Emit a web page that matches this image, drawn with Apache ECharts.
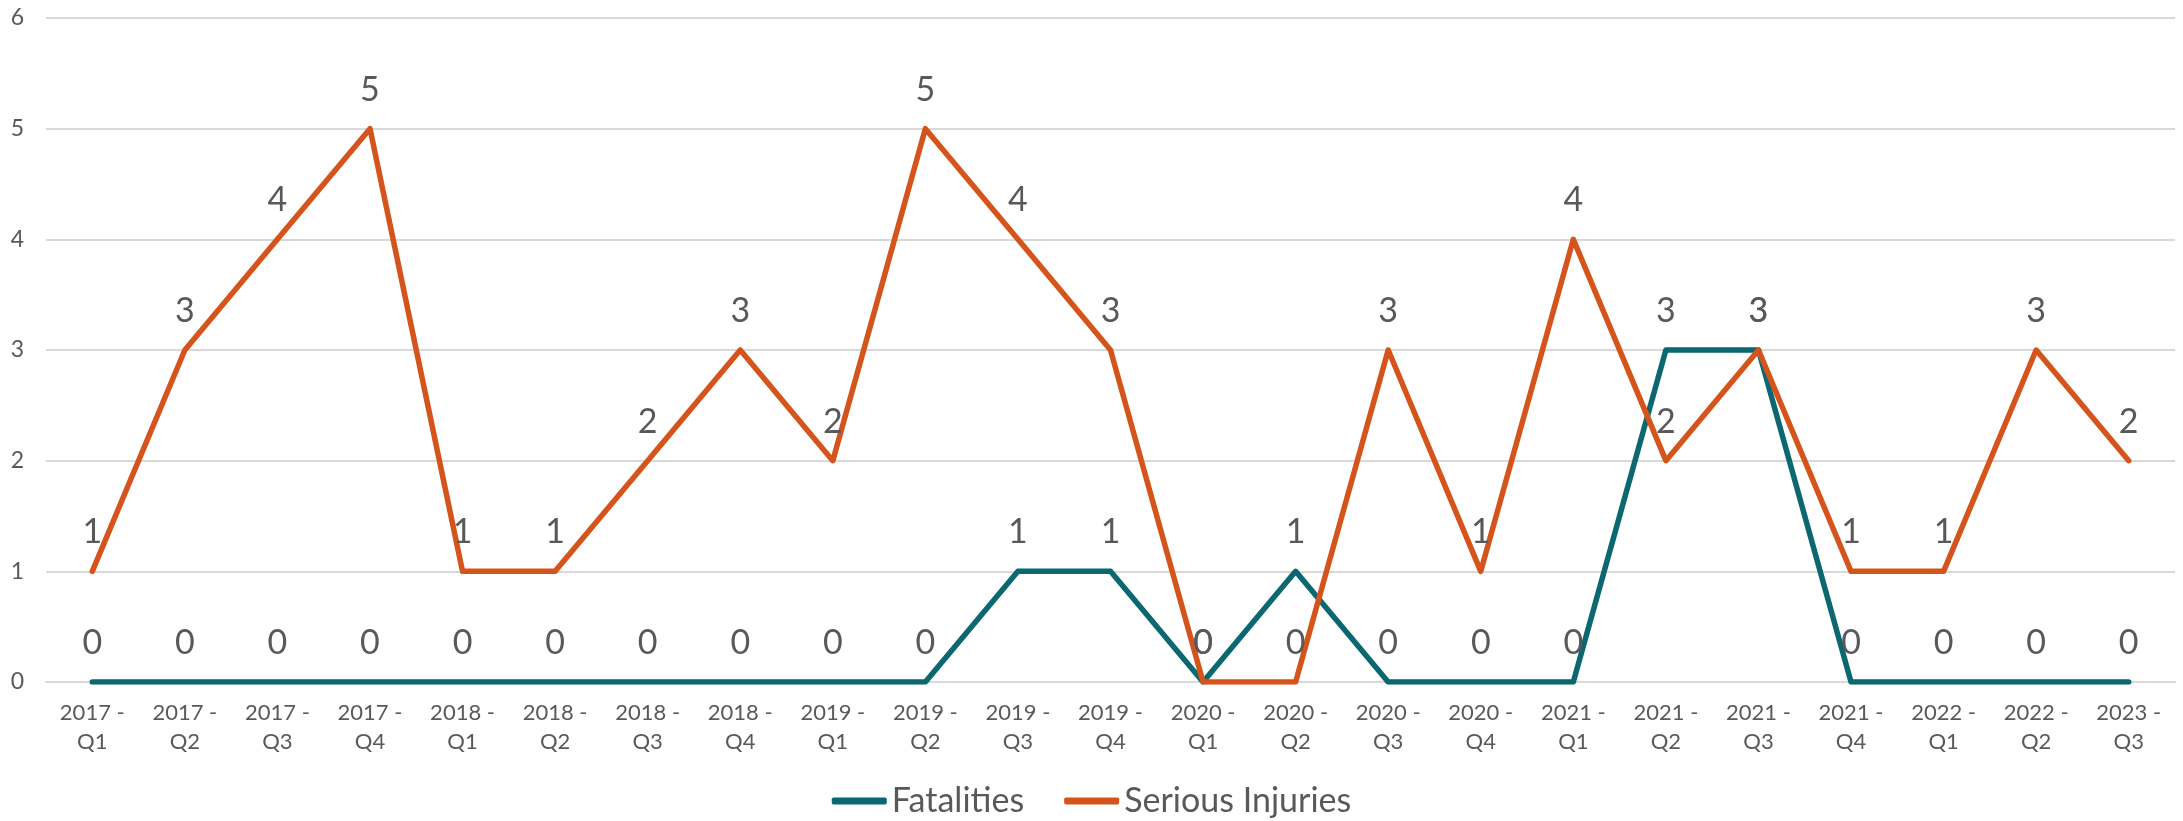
<!DOCTYPE html>
<html>
<head>
<meta charset="utf-8">
<script src="https://cdn.jsdelivr.net/npm/echarts@6/dist/echarts.min.js"></script>
<style>
html,body{margin:0;padding:0;background:#fff;}
#chart{width:2183px;height:821px;}
</style>
</head>
<body>
<div id="chart"></div>
<script>
const categories = ["2017 - Q1","2017 - Q2","2017 - Q3","2017 - Q4","2018 - Q1","2018 - Q2","2018 - Q3","2018 - Q4","2019 - Q1","2019 - Q2","2019 - Q3","2019 - Q4","2020 - Q1","2020 - Q2","2020 - Q3","2020 - Q4","2021 - Q1","2021 - Q2","2021 - Q3","2021 - Q4","2022 - Q1","2022 - Q2","2023 - Q3"];
const fatalities = [0,0,0,0,0,0,0,0,0,0,1,1,0,1,0,0,0,3,3,0,0,0,0];
const seriousInjuries = [1,3,4,5,1,1,2,3,2,5,4,3,0,0,3,1,4,2,3,1,1,3,2];
const yTicks = [0,1,2,3,4,5,6];

const FONT = 'Lato, "Open Sans", sans-serif';
const TXT = '#595959';
const chart = echarts.init(document.getElementById('chart'));

function lineSeries(name, data, color) {
  return {
    name: name,
    type: 'line',
    data: data,
    symbol: 'circle',
    symbolSize: 0,
    lineStyle: { color: color, width: 5.5, cap: 'round', join: 'round' },
    itemStyle: { color: color },
    label: {
      show: true,
      position: 'top',
      distance: 22,
      color: TXT,
      fontFamily: FONT,
      fontSize: 34
    },
    emphasis: { disabled: true }
  };
}

chart.setOption({
  animation: false,
  textStyle: { fontFamily: FONT },
  grid: { left: 46, right: 8, top: 18, bottom: 139, containLabel: false },
  legend: {
    bottom: -2,
    left: 'center',
    itemWidth: 55,
    itemHeight: 7,
    itemGap: 40,
    icon: 'roundRect',
    textStyle: { color: TXT, fontFamily: FONT, fontSize: 34 },
    data: ['Fatalities', 'Serious Injuries']
  },
  xAxis: {
    type: 'category',
    data: categories,
    boundaryGap: true,
    axisLine: { show: true, lineStyle: { color: '#D9D9D9', width: 2 } },
    axisTick: { show: false },
    axisLabel: {
      color: TXT,
      fontFamily: FONT,
      fontSize: 22,
      lineHeight: 29,
      margin: 16,
      interval: 0,
      formatter: v => v.replace(' - ', ' -\n')
    }
  },
  yAxis: {
    type: 'value',
    min: yTicks[0],
    max: yTicks[yTicks.length - 1],
    interval: 1,
    axisLine: { show: false },
    axisTick: { show: false },
    splitLine: { lineStyle: { color: '#D9D9D9', width: 2 } },
    axisLabel: { color: TXT, fontFamily: FONT, fontSize: 23, margin: 22 }
  },
  series: [
    lineSeries('Fatalities', fatalities, '#0B6770'),
    lineSeries('Serious Injuries', seriousInjuries, '#D4541C')
  ]
});
</script>
</body>
</html>
